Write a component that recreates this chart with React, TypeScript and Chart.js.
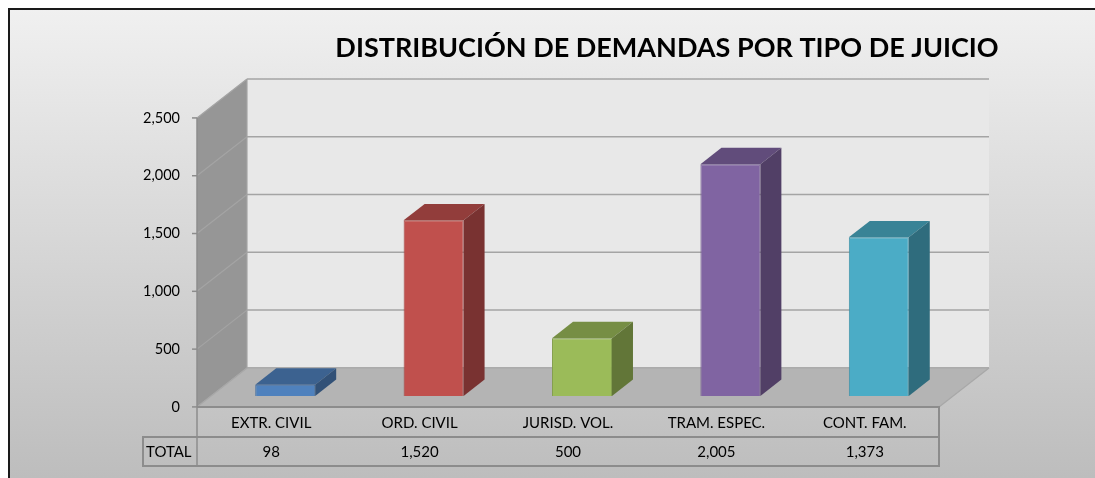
import React, { useEffect, useRef } from "react";
import { Chart, registerables } from "chart.js";

Chart.register(...registerables);

// ---- data ----
const TITLE = "DISTRIBUCIÓN DE DEMANDAS POR TIPO DE JUICIO";
const CATEGORIES = ["EXTR. CIVIL", "ORD. CIVIL", "JURISD. VOL.", "TRAM. ESPEC.", "CONT. FAM."];
const SERIES_NAME = "TOTAL";
const TOTAL = [98, 1520, 500, 2005, 1373];
const Y_TICKS = [0, 500, 1000, 1500, 2000, 2500];

// ---- style ----
const FRONT_COLORS = ["#4f81bd", "#c0504d", "#9bbb59", "#8064a2", "#4bacc6"];
const W = 1095;
const H = 478;
const FONT = "Lato, 'Open Sans', sans-serif";
const DEPTH_DX = 50;
const DEPTH_DY = -39;
const BAR_FRONT = 0.28;
const BAR_BACK = 0.7;

function shade(hex: string, f: number): string {
  const n = parseInt(hex.slice(1), 16);
  const r = Math.round(((n >> 16) & 255) * f);
  const g = Math.round(((n >> 8) & 255) * f);
  const b = Math.round((n & 255) * f);
  return `rgb(${r},${g},${b})`;
}

function shift(x: number, y: number, d: number): [number, number] {
  return [x + (d - BAR_FRONT) * DEPTH_DX, y + (d - BAR_FRONT) * DEPTH_DY];
}

const fmt = (v: number) => v.toLocaleString("en-US");

const scene3d = {
  id: "scene3d",
  beforeDraw(chart: any) {
    const ctx = chart.ctx as CanvasRenderingContext2D;
    const xs = chart.scales.x;
    const ys = chart.scales.y;
    ctx.save();
    // page + chart background
    ctx.fillStyle = "#ffffff";
    ctx.fillRect(0, 0, W, H);
    const g = ctx.createLinearGradient(0, 9, 0, H);
    g.addColorStop(0, "#f0f0f0");
    g.addColorStop(1, "#bdbdbd");
    ctx.fillStyle = g;
    ctx.fillRect(9, 9, W - 9, H - 9);
    ctx.strokeStyle = "#1a1a1a";
    ctx.lineWidth = 2;
    ctx.beginPath();
    ctx.moveTo(9, H);
    ctx.lineTo(9, 9);
    ctx.lineTo(W, 9);
    ctx.stroke();

    const L = xs.left;
    const R = xs.right;
    const yTop = ys.getPixelForValue(Y_TICKS[Y_TICKS.length - 1]);
    const yBot = ys.getPixelForValue(0);

    const poly = (pts: [number, number][], fill: string) => {
      ctx.beginPath();
      pts.forEach((p, i) => (i ? ctx.lineTo(p[0], p[1]) : ctx.moveTo(p[0], p[1])));
      ctx.closePath();
      ctx.fillStyle = fill;
      ctx.fill();
    };
    const line = (a: [number, number], b: [number, number], color: string, w: number) => {
      ctx.beginPath();
      ctx.moveTo(a[0], a[1]);
      ctx.lineTo(b[0], b[1]);
      ctx.strokeStyle = color;
      ctx.lineWidth = w;
      ctx.stroke();
    };

    // side wall
    poly([shift(L, yTop, 0), shift(L, yTop, 1), shift(L, yBot, 1), shift(L, yBot, 0)], "#969696");
    // back wall
    poly([shift(L, yTop, 1), shift(R, yTop, 1), shift(R, yBot, 1), shift(L, yBot, 1)], "#e8e8e8");
    // gridlines
    Y_TICKS.forEach((v) => {
      const y = ys.getPixelForValue(v);
      line(shift(L, y, 1), shift(R, y, 1), "#a4a4a4", 1.5);
      line(shift(L, y, 0), shift(L, y, 1), "#a4a4a4", 1.2);
    });
    line(shift(L, yTop, 1), shift(L, yBot, 1), "#a4a4a4", 1.2);
    // floor
    poly([shift(L, yBot, 0), shift(L, yBot, 1), shift(R, yBot, 1), shift(R, yBot, 0)], "#b4b4b4");
    line(shift(L, yBot, 1), shift(R, yBot, 1), "#a8a8a8", 1.2);
    line(shift(R, yBot, 0), shift(R, yBot, 1), "#a8a8a8", 1.2);
    line(shift(L, yBot, 0), shift(L, yBot, 1), "#a8a8a8", 1.2);

    // axis line + ticks + labels
    const axisTop = shift(L, yTop, 0);
    const f0 = shift(L, yBot, 0);
    const fR = shift(R, yBot, 0);
    const row1 = f0[1] + 30;
    const row2 = f0[1] + 59;
    line(axisTop, [f0[0], row2], "#8c8c8c", 1.5);
    ctx.font = `14.5px ${FONT}`;
    ctx.textAlign = "right";
    ctx.textBaseline = "middle";
    Y_TICKS.forEach((v) => {
      const p = shift(L, ys.getPixelForValue(v), 0);
      line([p[0] - 5, p[1]], p, "#8c8c8c", 1.5);
      ctx.fillStyle = "#000";
      ctx.fillText(fmt(v), p[0] - 17, p[1]);
    });

    // data table
    const labelLeft = f0[0] - 54;
    ctx.strokeStyle = "#8c8c8c";
    ctx.lineWidth = 2;
    ctx.beginPath();
    ctx.moveTo(f0[0], f0[1]);
    ctx.lineTo(fR[0], fR[1]);
    ctx.lineTo(fR[0], row2);
    ctx.lineTo(labelLeft, row2);
    ctx.lineTo(labelLeft, row1);
    ctx.lineTo(fR[0], row1);
    ctx.stroke();
    ctx.textAlign = "center";
    ctx.fillStyle = "#000";
    ctx.font = `15px ${FONT}`;
    CATEGORIES.forEach((c, i) => {
      const cx = shift(xs.getPixelForValue(i), yBot, 0)[0];
      ctx.fillText(c, cx, (f0[1] + row1) / 2 + 1);
      ctx.fillText(fmt(TOTAL[i]), cx, (row1 + row2) / 2 + 1);
    });
    ctx.textAlign = "left";
    ctx.fillText(SERIES_NAME, labelLeft + 3, (row1 + row2) / 2 + 1);

    // title
    ctx.font = `bold 27px ${FONT}`;
    ctx.textAlign = "center";
    ctx.textBaseline = "alphabetic";
    ctx.fillText(TITLE, 667, 57);
    ctx.restore();
  },
  afterDatasetsDraw(chart: any) {
    const ctx = chart.ctx as CanvasRenderingContext2D;
    const meta = chart.getDatasetMeta(0);
    const dx = (BAR_BACK - BAR_FRONT) * DEPTH_DX;
    const dy = (BAR_BACK - BAR_FRONT) * DEPTH_DY;
    ctx.save();
    meta.data.forEach((bar: any, i: number) => {
      const { x, y, base, width } = bar.getProps(["x", "y", "base", "width"], true);
      const l = x - width / 2;
      const r = x + width / 2;
      const c = FRONT_COLORS[i];
      ctx.beginPath();
      ctx.moveTo(l, y);
      ctx.lineTo(l + dx, y + dy);
      ctx.lineTo(r + dx, y + dy);
      ctx.lineTo(r, y);
      ctx.closePath();
      ctx.fillStyle = shade(c, 0.76);
      ctx.fill();
      ctx.beginPath();
      ctx.moveTo(r, y);
      ctx.lineTo(r + dx, y + dy);
      ctx.lineTo(r + dx, base + dy);
      ctx.lineTo(r, base);
      ctx.closePath();
      ctx.fillStyle = shade(c, 0.63);
      ctx.fill();
    });
    ctx.restore();
  },
};

export default function App() {
  const ref = useRef<HTMLCanvasElement | null>(null);
  useEffect(() => {
    if (!ref.current) return;
    const chart = new Chart(ref.current, {
      type: "bar",
      data: {
        labels: CATEGORIES,
        datasets: [
          {
            label: SERIES_NAME,
            data: TOTAL,
            backgroundColor: FRONT_COLORS,
            borderColor: FRONT_COLORS.map((c) => shade(c, 0.85)),
            borderWidth: 1,
            barPercentage: 0.404,
            categoryPercentage: 1,
          },
        ],
      },
      options: {
        responsive: false,
        maintainAspectRatio: false,
        animation: false,
        layout: { padding: { left: 211, right: 142, top: 107, bottom: 82 } },
        scales: {
          x: { display: false, offset: true },
          y: { display: false, min: 0, max: 2500 },
        },
        plugins: { legend: { display: false }, tooltip: { enabled: false }, title: { display: false } },
      },
      plugins: [scene3d],
    });
    return () => chart.destroy();
  }, []);
  return (
    <div style={{ position: "fixed", left: 0, top: 0, width: W, height: H }}>
      <canvas ref={ref} width={W} height={H} style={{ display: "block", width: W, height: H }} />
    </div>
  );
}
